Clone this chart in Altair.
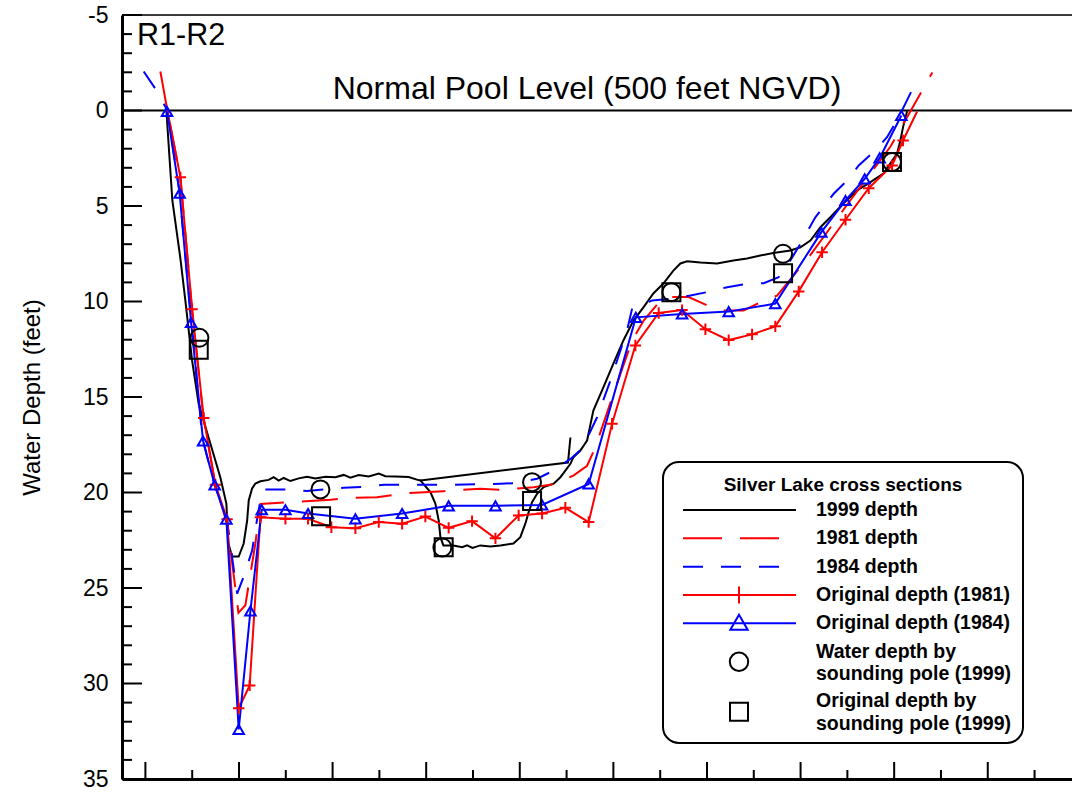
import altair as alt
import pandas as pd

FONT = "Liberation Sans"

# ---------------- data (x: distance along section, y: water depth in feet) -------------
black_x = [22.4, 28.8, 37.4, 42.7, 49.9, 56.9, 69.4, 80.1, 86.5, 88.7, 92.6, 99.7, 105.0,
           108.7, 110.4, 114.0, 117.5, 122.9, 131.7, 137.1, 142.4, 147.8, 154.9, 163.8,
           172.8, 181.6, 192.3, 203.0, 211.9, 219.0, 227.9, 238.6, 249.3, 256.4, 267.1,
           281.3, 291.7, 293.8, 304.5, 309.8, 313.4, 315.2, 318.4, 329.1, 338.4, 343.7,
           349.4, 357.9, 368.6, 379.3, 393.2, 400.6, 406.0, 409.5, 413.1, 418.5, 425.5,
           436.2, 443.4, 448.7, 454.1, 457.3, 464.7, 471.9, 478.6, 489.3, 500.0, 510.7,
           521.4, 532.1, 542.7, 553.4, 564.1, 571.6, 578.7, 593.0, 610.8, 628.2, 642.8,
           657.0, 670.9, 689.1, 699.8, 710.5, 721.2, 731.8, 745.7, 760.4, 774.6, 788.5,
           796.0, 803.1, 806.6, 809.5, 813.8]
black_y = [0.0, 4.71, 7.75, 9.95, 13.1, 15.35, 17.43, 19.21, 20.58, 22.67, 23.35, 23.35, 22.67,
           21.47, 20.42, 19.79, 19.53, 19.41, 19.34, 19.2, 19.38, 19.24, 19.4, 19.26,
           19.17, 19.26, 19.17, 19.2, 19.08, 19.22, 19.09, 19.16, 19.01, 19.15, 19.16,
           19.19, 19.35, 19.37, 19.98, 20.58, 21.47, 22.34, 22.77, 22.77, 22.86, 22.77,
           22.9, 22.77, 22.83, 22.77, 22.67, 22.34, 21.62, 21.03, 20.51, 20.07, 19.72,
           19.54, 19.2, 18.85, 18.5, 18.15, 17.8, 17.28, 15.71, 14.5, 13.25, 12.04,
           11.0, 10.31, 9.58, 9.06, 8.38, 8.01, 7.89, 7.96, 8.01, 7.85, 7.75,
           7.59, 7.46, 7.33, 7.16, 6.81, 6.11, 5.59, 4.87, 4.19, 3.75, 3.3,
           2.77, 2.25, 1.57, 0.87, 0.04]
# stray straight segment of the 1999 survey track
black2_x = [293.8, 451.5, 454.1]
black2_y = [19.37, 18.43, 17.12]

red_x = [23.5, 37.4, 49.9, 62.3, 74.8, 87.3, 99.7, 111.4, 122.9, 149.6, 173.8, 198.7, 224.4,
         249.3, 274.3, 299.1, 324.0, 349.0, 374.0, 398.8, 423.8, 448.7, 473.6, 498.6, 523.5,
         548.4, 573.4, 598.3, 623.2, 648.2, 673.0, 698.0, 723.0, 748.0, 772.8, 797.8, 809.5,
         824.5]
red_y = [0.0, 3.5, 10.4, 16.1, 19.6, 21.4, 31.3, 30.1, 21.3, 21.38, 21.38, 21.82, 21.87,
         21.55, 21.64, 21.26, 21.85, 21.5, 22.4, 21.2, 21.1, 20.8, 21.55, 16.4, 12.3,
         10.6, 10.45, 11.45, 12.02, 11.72, 11.3, 9.47, 7.42, 5.72, 4.07, 2.88, 1.57,
         0.05]

blue_x = [23.1, 36.6, 48.8, 61.6, 74.0, 86.5, 99.7, 112.2, 124.3, 149.6, 173.8, 224.4, 274.3,
          324.0, 374.0, 423.8, 473.6, 524.0, 573.4, 623.2, 673.0, 722.2, 748.0, 768.5, 784.5,
          807.7]
blue_y = [0.05, 4.33, 11.1, 17.3, 19.6, 21.4, 32.4, 26.2, 20.9, 20.9, 21.1, 21.38, 21.1,
          20.7, 20.7, 20.65, 19.55, 10.83, 10.65, 10.53, 10.11, 6.37, 4.71, 3.58, 2.48,
          0.26]

d81_x = [16.0, 23.5, 37.4, 50.0, 62.0, 74.8, 87.6, 99.4, 106.8, 117.5, 122.9, 154.9, 197.6,
         217.2, 247.5, 277.8, 318.7, 357.9, 379.3, 414.9, 439.9, 457.6, 471.9, 480.8, 500.3,
         520.0, 532.4, 550.2, 560.9, 580.4, 600.1, 617.8, 639.2, 657.0, 674.9, 710.0, 753.2,
         795.9, 840.8]
d81_y = [-2.04, 0.0, 3.5, 10.5, 16.1, 19.6, 21.7, 26.3, 25.9, 22.67, 20.6, 20.5, 20.38,
         20.28, 20.25, 20.04, 19.93, 19.8, 19.86, 19.72, 19.54, 19.1, 18.6, 17.63, 14.8,
         12.04, 11.0, 9.95, 9.77, 9.77, 10.2, 10.47, 10.47, 10.04, 9.69, 7.6, 4.7,
         1.9, -1.99]

d84_x = [-1.8, 10.7, 23.5, 36.3, 49.1, 60.9, 73.7, 86.5, 98.0, 104.7, 114.0, 120.0, 125.0,
         151.4, 172.8, 187.0, 211.9, 233.2, 254.6, 279.6, 329.4, 379.3, 393.5, 418.5, 436.2,
         454.1, 466.6, 482.6, 496.8, 514.6, 520.0, 541.3, 560.9, 582.3, 600.1, 621.5, 639.2,
         660.6, 676.6, 689.1, 699.8, 715.8, 735.4, 749.7, 762.1, 779.9, 792.4, 804.8, 819.8]
d84_y = [-2.04, -1.14, 0.0, 4.19, 11.0, 17.17, 19.58, 21.2, 25.3, 24.45, 23.04, 21.2, 19.84,
         19.84, 19.92, 19.86, 19.75, 19.7, 19.6, 19.6, 19.6, 19.54, 19.51, 19.28, 18.85,
         18.24, 17.71, 16.06, 14.14, 11.52, 10.37, 9.95, 9.86, 9.69, 9.51, 9.25, 9.11,
         9.04, 8.73, 7.85, 6.98, 5.59, 4.36, 3.66, 2.88, 2.09, 1.4, 0.35, -1.14]

pole_water_x = [57.7, 187.0, 317.3, 413.1, 562.0, 681.3, 797.7]
pole_water_y = [11.9, 19.84, 22.88, 19.46, 9.51, 7.5, 2.7]
pole_orig_x = [57.0, 187.7, 318.7, 413.1, 562.0, 681.3, 797.7]
pole_orig_y = [12.53, 21.24, 22.86, 20.45, 9.52, 8.52, 2.7]

pool_level = [0]
y_major = list(range(-5, 36, 5))
y_minor = [v for v in range(-5, 36) if v % 5 != 0]
x_major = list(range(0, 901, 100))
x_minor = list(range(50, 951, 100))

legend_title = "Silver Lake cross sections"
legend_labels = ["1999 depth", "1981 depth", "1984 depth",
                 "Original depth (1981)", "Original depth (1984)",
                 "Water depth by", "sounding pole (1999)",
                 "Original depth by", "sounding pole (1999)"]


def frame(xs, ys, seg="a"):
    assert len(xs) == len(ys)
    return pd.DataFrame({"x": xs, "y": ys, "i": list(range(len(xs))), "seg": [seg] * len(xs)})


# ---------------- scales / axes ----------------
W, H = 950, 764
XS = alt.Scale(domain=[-25, 990], nice=False, zero=False)
YS = alt.Scale(domain=[-5, 35], reverse=True, nice=False, zero=False)
x_axis = alt.Axis(labels=False, ticks=False, grid=False, domain=True, domainWidth=3,
                  domainColor="black", title=None)
y_axis = alt.Axis(values=y_major, labelExpr="'' + datum.value", labelFontSize=23,
                  labelFont=FONT, labelColor="black", labelPadding=14, ticks=False,
                  grid=False, domain=True, domainWidth=3, domainColor="black",
                  title="Water Depth (feet)", titleFontSize=24, titleFont=FONT,
                  titleFontWeight="normal", titleColor="black", titleX=-90, titleY=H / 2,
                  titleAngle=270, titleAlign="center", titleBaseline="middle")


def X(f):
    return alt.X(f, type="quantitative", scale=XS, axis=x_axis)


def Y(f):
    return alt.Y(f, type="quantitative", scale=YS, axis=y_axis)


layers = []

# frame ticks (inward)
layers.append(alt.Chart(pd.DataFrame({"v": y_major})).mark_rule(color="black", strokeWidth=2)
              .encode(y=Y("v"), x=alt.value(0), x2=alt.value(20)))
layers.append(alt.Chart(pd.DataFrame({"v": y_minor})).mark_rule(color="black", strokeWidth=2)
              .encode(y=Y("v"), x=alt.value(0), x2=alt.value(10)))
layers.append(alt.Chart(pd.DataFrame({"v": x_major})).mark_rule(color="black", strokeWidth=2)
              .encode(x=X("v"), y=alt.value(H), y2=alt.value(H - 17)))
layers.append(alt.Chart(pd.DataFrame({"v": x_minor})).mark_rule(color="black", strokeWidth=2)
              .encode(x=X("v"), y=alt.value(H), y2=alt.value(H - 9)))
# top border
layers.append(alt.Chart(pd.DataFrame({"v": [0]})).mark_rule(color="black", strokeWidth=1.5)
              .encode(x=alt.value(0), x2=alt.value(W), y=alt.value(0)))
# normal pool level line
layers.append(alt.Chart(pd.DataFrame({"v": pool_level})).mark_rule(color="black", strokeWidth=2)
              .encode(y=Y("v"), x=alt.value(0), x2=alt.value(W)))

# series lines
black_df = pd.concat([frame(black_x, black_y, "a"), frame(black2_x, black2_y, "b")])
layers.append(alt.Chart(black_df).mark_line(color="black", strokeWidth=2)
              .encode(x=X("x"), y=Y("y"), order="i:Q", detail="seg:N"))
layers.append(alt.Chart(frame(d81_x, d81_y)).mark_line(color="red", strokeWidth=2, strokeDash=[36, 18])
              .encode(x=X("x"), y=Y("y"), order="i:Q"))
layers.append(alt.Chart(frame(d84_x, d84_y)).mark_line(color="blue", strokeWidth=2, strokeDash=[20, 18])
              .encode(x=X("x"), y=Y("y"), order="i:Q"))
layers.append(alt.Chart(frame(red_x, red_y)).mark_line(color="red", strokeWidth=2)
              .encode(x=X("x"), y=Y("y"), order="i:Q"))
layers.append(alt.Chart(frame(blue_x, blue_y)).mark_line(color="blue", strokeWidth=2)
              .encode(x=X("x"), y=Y("y"), order="i:Q"))

PLUS = "M-1,0L1,0M0,-1L0,1"
VBAR = "M0,-1L0,1"
layers.append(alt.Chart(frame(red_x[1:-1], red_y[1:-1])).mark_point(
    shape=PLUS, size=130, filled=False, color="red", strokeWidth=2, opacity=1)
    .encode(x=X("x"), y=Y("y")))
layers.append(alt.Chart(frame(blue_x, blue_y)).mark_point(
    shape="triangle-up", size=110, filled=False, color="blue", strokeWidth=2, opacity=1)
    .encode(x=X("x"), y=Y("y")))
layers.append(alt.Chart(frame(pole_water_x, pole_water_y)).mark_point(
    shape="circle", size=324, filled=False, color="black", strokeWidth=2, opacity=1)
    .encode(x=X("x"), y=Y("y")))
layers.append(alt.Chart(frame(pole_orig_x, pole_orig_y)).mark_point(
    shape="square", size=324, filled=False, color="black", strokeWidth=2, opacity=1)
    .encode(x=X("x"), y=Y("y")))

# annotations
def text_at(s, x, y, size, align="left", weight="normal", baseline="alphabetic"):
    return (alt.Chart(pd.DataFrame({"t": [s]}))
            .mark_text(align=align, baseline=baseline, fontSize=size, font=FONT,
                       fontWeight=weight, color="black")
            .encode(text="t:N", x=alt.value(x), y=alt.value(y)))


layers.append(text_at("R1-R2", 15, 30, 30.5))
layers.append(text_at("Normal Pool Level (500 feet NGVD)", 465, 83.5, 32, align="center"))

# ---------------- legend ----------------
one = pd.DataFrame({"a": [0]})
LX0, LX1, LXM, LT = 561, 674, 617, 694
layers.append(alt.Chart(one).mark_rect(fill="white", stroke="black", strokeWidth=2, cornerRadius=16)
              .encode(x=alt.value(541), x2=alt.value(901), y=alt.value(447), y2=alt.value(728)))
layers.append(text_at(legend_title, 721, 470, 19, align="center", weight="bold", baseline="middle"))


def leg_rule(y, color, dash=None):
    kw = dict(color=color, strokeWidth=2)
    if dash:
        kw["strokeDash"] = dash
    return alt.Chart(one).mark_rule(**kw).encode(x=alt.value(LX0), x2=alt.value(LX1), y=alt.value(y))


def leg_point(y, shape, color, size):
    return (alt.Chart(one).mark_point(shape=shape, size=size, filled=False, color=color,
                                      strokeWidth=2, opacity=1)
            .encode(x=alt.value(LXM), y=alt.value(y)))


rows = [495, 523.3, 551.7, 580, 608.3]
layers.append(leg_rule(rows[0], "black"))
layers.append(leg_rule(rows[1], "red", [39, 18]))
layers.append(leg_rule(rows[2], "blue", [20, 18]))
layers.append(leg_rule(rows[3], "red"))
layers.append(leg_point(rows[3], VBAR, "red", 289))
layers.append(leg_rule(rows[4], "blue"))
layers.append(leg_point(rows[4] - 1, "triangle-up", "blue", 300))
layers.append(leg_point(646.7, "circle", "black", 340))
layers.append(leg_point(696.7, "square", "black", 324))

label_y = [495, 523.3, 551.7, 580, 608.3, 637, 659, 685.7, 709]
for s, yy in zip(legend_labels, label_y):
    layers.append(text_at(s, LT, yy, 19.5, weight="bold", baseline="middle"))

chart = (alt.layer(*layers)
         .properties(width=W, height=H,
                     padding={"left": 122, "top": 15, "right": 0, "bottom": 11},
                     autosize=alt.AutoSizeParams(type="none"))
         .configure_view(strokeWidth=0)
         .configure(font=FONT))

chart.save("out.html", embed_options={"renderer": "svg", "actions": False})
